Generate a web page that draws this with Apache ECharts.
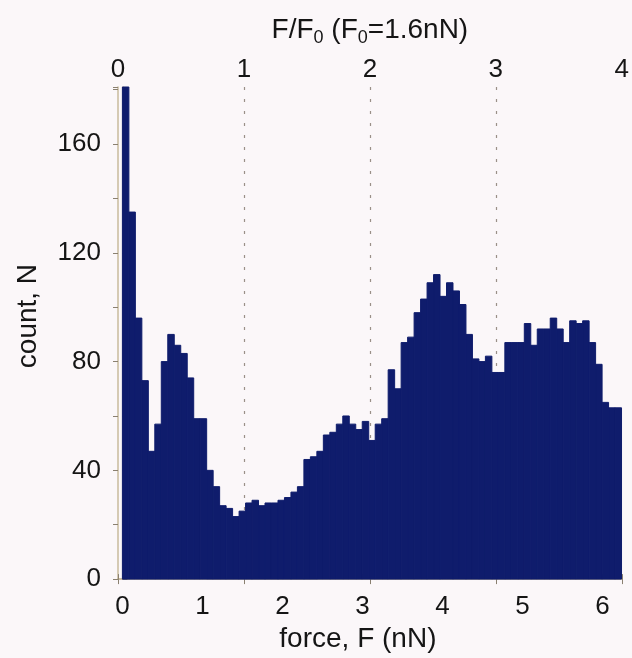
<!DOCTYPE html>
<html>
<head>
<meta charset="utf-8">
<script src="https://cdn.jsdelivr.net/npm/echarts@6/dist/echarts.min.js"></script>
<style>
  html, body { margin: 0; padding: 0; background: #fbf7f9; }
  #chart { width: 632px; height: 658px; }
</style>
</head>
<body>
<div id="chart"></div>
<script>
// histogram of rupture force
var binWidth = 0.081; // nN
var counts = [
  181, 135, 96, 73, 47, 57, 80, 90, 86, 83,
  74, 59, 59, 40, 34, 27, 26, 23, 25, 28,
  29, 27, 28, 28, 29, 30, 32, 34, 44, 45,
  47, 53, 54, 57, 60, 57, 55, 58, 51, 57,
  59, 77, 70, 87, 89, 98, 103, 109, 112, 104,
  109, 106, 101, 90, 81, 80, 82, 76, 76, 87,
  87, 87, 94, 86, 92, 92, 96, 92, 87, 95,
  94, 95, 87, 79, 65, 63, 63
];
var forceLabels = [0, 1, 2, 3, 4, 5, 6];
var ratioLabels = [0, 1, 2, 3, 4];
var countLabels = [0, 40, 80, 120, 160];

var font = 'Liberation Sans, Arial, Helvetica, sans-serif';
var textColor = '#151515';
var frameColor = '#c9bb9c';
var tickColor = '#8a8070';
var barColor = '#0f1c6c';

// bins as [left edge, right edge, count]
var bins = [];
for (let i = 0; i < counts.length; i++) {
  bins.push([i * binWidth, (i + 1) * binWidth, counts[i]]);
}

function pick(list) {
  return function (v) {
    let r = Math.round(v * 1000) / 1000;
    return list.indexOf(r) >= 0 ? String(r) : '';
  };
}

var chart = echarts.init(document.getElementById('chart'));
var option = {
  animation: false,
  backgroundColor: '#fbf7f9',
  grid: { left: 118, right: 6, top: 87, bottom: 73 },
  xAxis: [
    {
      type: 'value',
      position: 'bottom',
      min: -0.055,
      max: 6.24,
      splitNumber: 6,
      name: 'force, F (nN)',
      nameLocation: 'middle',
      nameGap: 40,
      nameTextStyle: { fontSize: 28, color: textColor, fontFamily: font, padding: [0, 24, 0, 0] },
      axisLine: { show: true, lineStyle: { color: frameColor, width: 1.5 } },
      axisTick: { show: true, inside: true, length: 5, lineStyle: { color: tickColor } },
      axisLabel: { fontSize: 26, color: textColor, fontFamily: font, margin: 15, formatter: pick(forceLabels) },
      splitLine: { show: false }
    },
    {
      type: 'value',
      position: 'top',
      min: 0,
      max: 4,
      interval: 1,
      name: '{a|F/F}{s|0}{a| (F}{s|0}{a|=1.6nN)}',
      nameLocation: 'middle',
      nameGap: 40,
      nameTextStyle: {
        color: textColor,
        fontFamily: font,
        rich: {
          a: { fontSize: 28, color: textColor, fontFamily: font },
          s: { fontSize: 18, color: textColor, fontFamily: font, padding: [16, 0, 0, 0] }
        }
      },
      axisLine: { show: true, lineStyle: { color: frameColor, width: 1.5 } },
      axisTick: { show: true, inside: true, length: 5, lineStyle: { color: tickColor } },
      axisLabel: { fontSize: 26, color: textColor, fontFamily: font, margin: 4, formatter: pick(ratioLabels) },
      splitLine: {
        show: true, showMinLine: false, showMaxLine: false,
        lineStyle: { color: '#9a9088', type: [3, 9], width: 1.2 }
      }
    }
  ],
  yAxis: [
    {
      type: 'value',
      position: 'left',
      min: 0,
      max: 181,
      interval: 20,
      name: 'count, N',
      nameLocation: 'middle',
      nameRotate: 90,
      nameGap: 76,
      nameTextStyle: { fontSize: 28, color: textColor, fontFamily: font, padding: [0, 0, 0, 34] },
      axisLine: { show: true, lineStyle: { color: frameColor, width: 1.5 } },
      axisTick: { show: true, inside: true, length: 5, lineStyle: { color: tickColor } },
      axisLabel: { fontSize: 26, color: textColor, fontFamily: font, margin: 17, formatter: pick(countLabels) },
      splitLine: { show: false }
    },
    {
      type: 'value',
      position: 'right',
      min: 0,
      max: 181,
      interval: 20,
      axisLine: { show: true, lineStyle: { color: frameColor, width: 1.5 } },
      axisTick: { show: true, inside: true, length: 5, lineStyle: { color: tickColor } },
      axisLabel: { show: false },
      splitLine: { show: false }
    }
  ],
  series: [
    {
      type: 'custom',
      xAxisIndex: 0,
      yAxisIndex: 0,
      data: bins,
      encode: { x: [0, 1], y: 2 },
      renderItem: function (params, api) {
        let topLeft = api.coord([api.value(0), api.value(2)]);
        let bottomRight = api.coord([api.value(1), 0]);
        return {
          type: 'rect',
          shape: {
            x: topLeft[0],
            y: topLeft[1],
            width: bottomRight[0] - topLeft[0],
            height: bottomRight[1] - topLeft[1]
          },
          style: { fill: barColor, stroke: barColor, lineWidth: 1 }
        };
      }
    }
  ]
};
chart.setOption(option);
</script>
</body>
</html>
